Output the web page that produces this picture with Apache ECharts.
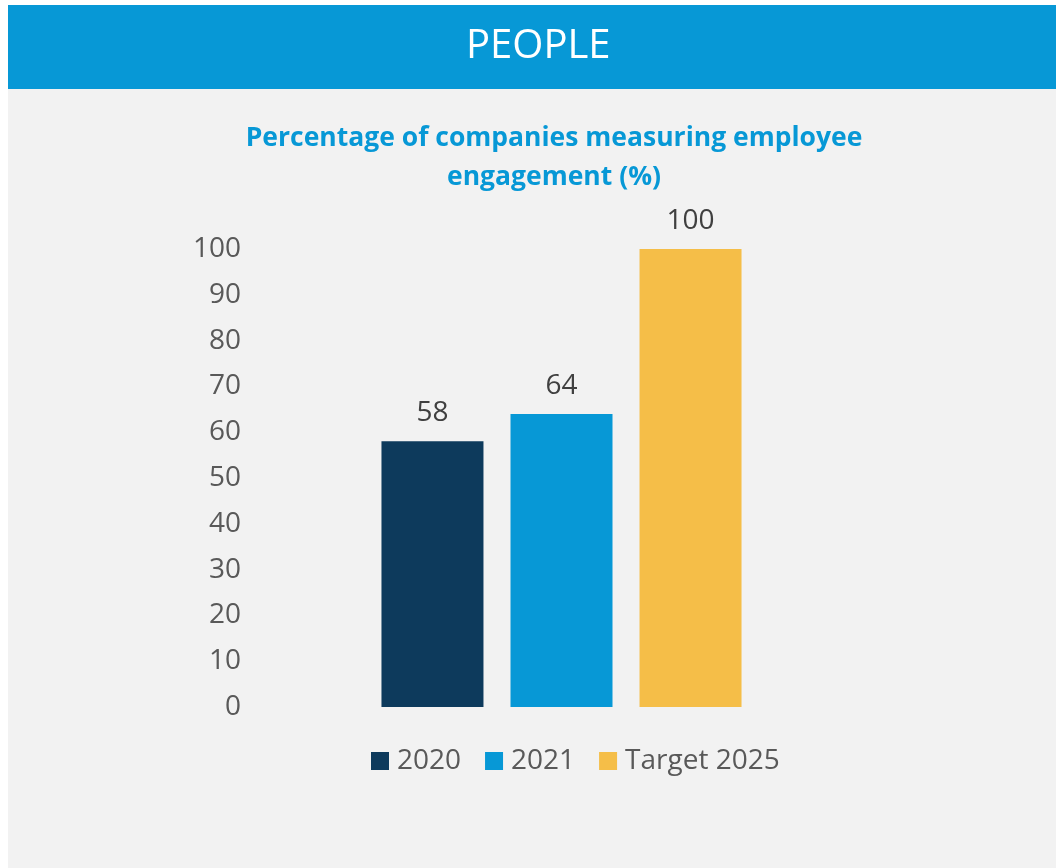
<!DOCTYPE html>
<html><head><meta charset="utf-8">
<script src="https://cdn.jsdelivr.net/npm/echarts@6/dist/echarts.min.js"></script>
<style>html,body{margin:0;padding:0;background:#fff;}#c{width:1056px;height:868px;}</style>
</head><body><div id="c"></div>
<script>
const categories = [''];
const seriesNames = ['2020', '2021', 'Target 2025'];
const values2020 = [58];
const values2021 = [64];
const valuesTarget = [100];
const seriesColors = ['#0d3a5c', '#0798d6', '#f5be48'];
const yTicks = [0, 10, 20, 30, 40, 50, 60, 70, 80, 90, 100];

const font = 'Open Sans';
const chart = echarts.init(document.getElementById('c'));
const dataSets = [values2020, values2021, valuesTarget];
chart.setOption({
  backgroundColor: '#ffffff',
  animation: false,
  graphic: [
    { type: 'rect', shape: { x: 8, y: 89, width: 1048, height: 779 }, style: { fill: '#f2f2f2' }, z: -10 },
    { type: 'rect', shape: { x: 8, y: 5, width: 1048, height: 84 }, style: { fill: '#0798d6' }, z: -10 },
    { type: 'text', left: 466, top: 27, style: { text: 'PEOPLE', fill: '#ffffff', font: '40px "Open Sans"' } }
  ],
  title: {
    text: 'Percentage of companies measuring employee\nengagement (%)',
    left: 549, textAlign: 'center', top: 114,
    textStyle: { color: '#0798d6', fontFamily: font, fontWeight: 'bold', fontSize: 26.5, lineHeight: 39 }
  },
  legend: {
    data: seriesNames,
    left: 371, top: 747, padding: 0,
    itemWidth: 18, itemHeight: 18, itemGap: 24,
    icon: 'rect',
    textStyle: { color: '#595959', fontFamily: font, fontSize: 28, padding: [0, 0, 0, 3] }
  },
  grid: { left: 249, right: 182, top: 249, bottom: 161, containLabel: false },
  xAxis: {
    type: 'category', data: categories,
    axisLine: { show: false }, axisTick: { show: false }, axisLabel: { show: false }
  },
  yAxis: {
    type: 'value', min: yTicks[0], max: yTicks[yTicks.length - 1], interval: 10,
    axisLine: { show: false }, axisTick: { show: false }, splitLine: { show: false },
    axisLabel: { color: '#595959', fontFamily: font, fontSize: 28, margin: 8 }
  },
  series: seriesNames.map((n, i) => ({
    name: n, type: 'bar', data: dataSets[i],
    barWidth: 102, barGap: '26.5%',
    itemStyle: { color: seriesColors[i] },
    label: { show: true, position: 'top', distance: 14, color: '#404040', fontFamily: font, fontSize: 28 }
  }))
});
</script></body></html>
